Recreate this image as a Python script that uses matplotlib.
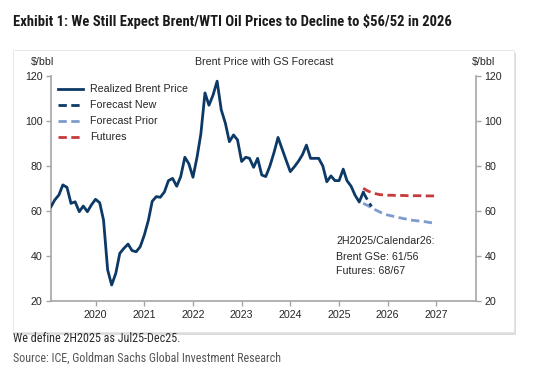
import matplotlib
matplotlib.use("Agg")
import matplotlib.pyplot as plt
from matplotlib.patches import Rectangle
from matplotlib import font_manager
import pandas as pd

# ---------------- data ----------------
realized = [
    61.9, 64.9, 67.1, 71.6, 70.5, 63.4, 64.1, 59.7, 62.2, 59.7, 62.7,            # Feb-Dec 2019
    65.2, 63.7, 56.0, 33.8, 27.1, 32.3, 41.2, 43.4, 45.3, 42.4, 41.9, 44.1,      # 2020
    49.3, 56.0, 64.3, 66.4, 66.1, 68.5, 73.5, 74.5, 71.0, 75.3, 83.9, 81.0,      # 2021
    75.0, 84.1, 94.2, 112.5, 107.0, 111.6, 117.7, 105.0, 99.0, 90.8, 93.8, 91.6, # 2022
    82.0, 83.9, 83.4, 79.4, 83.4, 76.0, 75.3, 80.0, 86.0, 92.7, 87.5, 82.5,      # 2023
    77.5, 79.7, 82.0, 85.0, 89.3, 83.4, 83.4, 83.4, 80.0, 73.0, 75.6, 73.5,      # 2024
    73.5, 78.6, 73.5, 71.0, 67.0, 64.0, 68.3,                                    # Jan-Jul 2025
]
forecast_new = [68.3, 65.0, 62.0]                                               # Jul-Sep 2025
forecast_prior = [63.4, 62.5, 61.5, 60.5, 59.6, 58.7, 58.2, 57.8, 57.4, 57.0,
                  56.6, 56.3, 55.9, 55.7, 55.5, 55.3, 55.0, 54.7, 54.3]         # Jul 2025 - Jan 2027
futures = [70.1, 69.0, 68.2, 67.7, 67.3, 67.1, 67.0, 67.0, 66.9, 66.9,
           66.9, 66.8, 66.8, 66.8, 66.8, 66.7, 66.7, 66.7, 66.7]                # Jul 2025 - Jan 2027

realized_dates = pd.date_range("2019-02-01", periods=len(realized), freq="MS")
fc_new_dates = pd.date_range("2025-07-01", periods=len(forecast_new), freq="MS")
fc_prior_dates = pd.date_range("2025-07-01", periods=len(forecast_prior), freq="MS")
futures_dates = pd.date_range("2025-07-01", periods=len(futures), freq="MS")

year_ticks = [2020, 2021, 2022, 2023, 2024, 2025, 2026, 2027]
y_ticks = [20, 40, 60, 80, 100, 120]

title = "Exhibit 1: We Still Expect Brent/WTI Oil Prices to Decline to $56/52 in 2026"
chart_title = "Brent Price with GS Forecast"
note = "We define 2H2025 as Jul25-Dec25."
source = "Source: ICE, Goldman Sachs Global Investment Research"
annot = ["2H2025/Calendar26:", "Brent GSe: 61/56", "Futures: 68/67"]

# ---------------- style ----------------
NAVY = "#0d3966"
LIGHTBLUE = "#7d9bcc"
RED = "#c8393b"
SPINE = "#a5a5a5"
TXT = "#262626"
FS = 7.7
LW = 2.0

available = {f.name for f in font_manager.fontManager.ttflist}
def pick(prefs):
    for p in prefs:
        if p in available:
            return p
    return "DejaVu Sans"

narrow_name = pick(["Liberation Sans Narrow", "DejaVu Sans Condensed", "Roboto Condensed",
                    "Open Sans Condensed", "Lato", "Roboto"])
narrow = [narrow_name, "DejaVu Sans"]
arial = ["Liberation Sans", "DejaVu Sans"]

W, H = 560, 384
fig = plt.figure(figsize=(W / 100, H / 100), dpi=100)
fig.patch.set_facecolor("white")
renderer = fig.canvas.get_renderer()

def fx(px):
    return px / W

def fy(py):
    return 1 - py / H

def fitted_text(x0, x1, py, s, size, **kw):
    t = fig.text(fx(x0), fy(py), s, fontsize=size, va="center", ha="left", **kw)
    w = t.get_window_extent(renderer).width
    if w > 0:
        t.set_fontsize(size * (x1 - x0) / w)
    return t

# panel with soft shadow
fig.patches.append(Rectangle((fx(14.5), fy(334.5)), fx(514) - fx(12.6), fy(50) - fy(332),
                             transform=fig.transFigure, facecolor="#dcdcdc", edgecolor="none",
                             zorder=-2))
fig.patches.append(Rectangle((fx(12.6), fy(332)), fx(514) - fx(12.6), fy(50) - fy(332),
                             transform=fig.transFigure, facecolor="white", edgecolor="#e4e4e4",
                             linewidth=0.6, zorder=-1))

ax = fig.add_axes([fx(51), fy(301), fx(476) - fx(51), fy(76) - fy(301)])
ax.set_zorder(2)
ax.set_facecolor("none")

dash = (3.0, 1.6)
ax.plot(realized_dates, realized, color=NAVY, lw=LW, solid_joinstyle="round",
        label="Realized Brent Price", zorder=5)
ax.plot(fc_new_dates, forecast_new, color=NAVY, lw=LW, dashes=dash,
        label="Forecast New", zorder=4)
ax.plot(fc_prior_dates, forecast_prior, color=LIGHTBLUE, lw=LW, dashes=dash,
        label="Forecast Prior", zorder=3)
ax.plot(futures_dates, futures, color=RED, lw=LW, dashes=dash,
        label="Futures", zorder=3)

ax.set_ylim(20, 120)
ax.set_xlim(pd.Timestamp("2019-02-01"), pd.Timestamp("2027-10-25"))
ax.set_yticks(y_ticks)
ax.set_xticks([pd.Timestamp(f"{y}-01-01") for y in year_ticks])
ax.set_xticklabels([str(y) for y in year_ticks])

ax.spines["top"].set_visible(False)
for s in ["left", "bottom", "right"]:
    ax.spines[s].set_color(SPINE)
    ax.spines[s].set_linewidth(1.2)

ax.tick_params(axis="both", which="both", colors=SPINE, labelcolor=TXT,
               labelsize=FS, length=3.5, width=1.0, direction="out")
ax.tick_params(axis="y", pad=2.5, right=True, labelright=True)
ax.tick_params(axis="x", pad=3)
for lab in ax.get_xticklabels() + ax.get_yticklabels():
    lab.set_fontfamily(arial)

leg = ax.legend(loc="upper left", bbox_to_anchor=(fx(58), fy(84.5)),
                bbox_transform=fig.transFigure, frameon=False, borderpad=0,
                borderaxespad=0, handlelength=2.3, handletextpad=0.7,
                labelspacing=0.56, prop={"family": arial, "size": FS})
for t in leg.get_texts():
    t.set_color(TXT)

# texts
fitted_text(12.6, 450, 21.5, title, 9.2, family=narrow, weight="bold", color="#1a1a1a")
fig.text(fx(30.5), fy(62), "$/bbl", family=arial, fontsize=FS, color=TXT, va="center", ha="left")
fig.text(fx(472), fy(62), "$/bbl", family=arial, fontsize=FS, color=TXT, va="center", ha="left")
fig.text(fx(264), fy(62), chart_title, family=arial, fontsize=FS, color=TXT, va="center", ha="center")

for txt, py in zip(annot, [240.7, 256.7, 271.5]):
    fig.text(fx(336.5), fy(py), txt, family=arial, fontsize=FS, color=TXT, va="center", ha="left")

fitted_text(12.6, 180, 338.5, note, 8.2, family=narrow, color="#2a2a2a")
fitted_text(12.6, 279, 358.5, source, 8.2, family=narrow, color="#555555")

fig.savefig("out.png", dpi=100, facecolor="white")
